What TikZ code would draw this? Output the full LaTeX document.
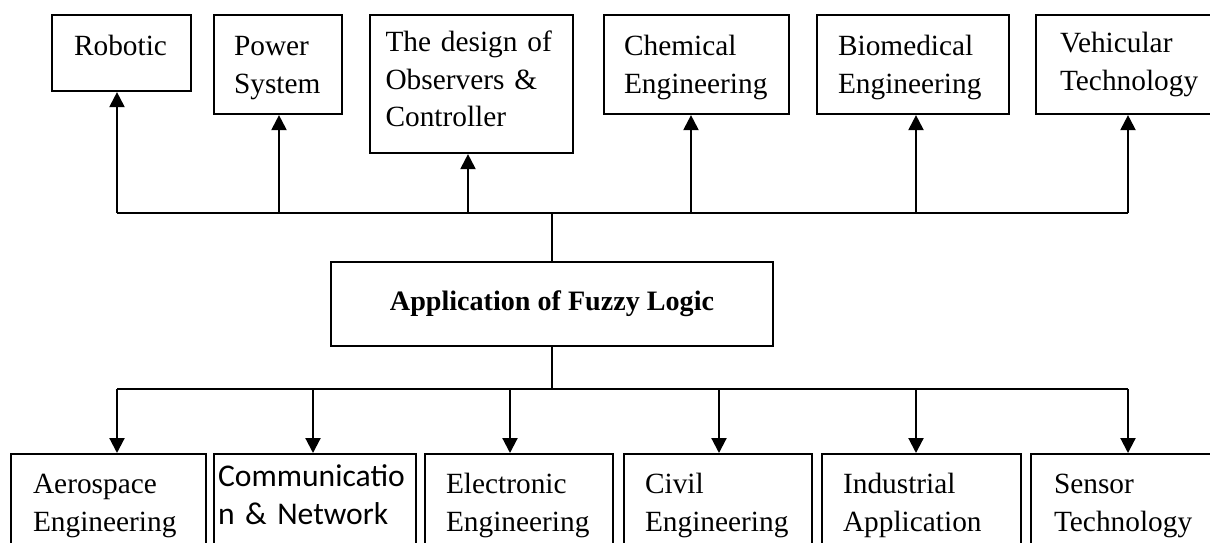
\documentclass[tikz,border=0pt]{standalone}
\usepackage{fontspec}
\setmainfont{Liberation Serif}
\newfontfamily\calibrifont{Carlito}
\usetikzlibrary{arrows.meta}

\tikzset{
  appbox/.style={draw, line width=1.2pt, anchor=north west, align=left, inner ysep=0pt,
    font=\fontsize{16.7}{21.6}\selectfont},
  mainbox/.style={draw, line width=1.2pt, minimum width=8.84cm, minimum height=1.68cm,
    font=\fontsize{16}{19}\selectfont\bfseries},
  link/.style={line width=1.2pt},
  arrowlink/.style={link, -{Triangle[length=0.3cm,width=0.3cm]}}
}

\begin{document}
\begin{tikzpicture}[x=0.02cm, y=-0.02cm]
\useasboundingbox (0,0) rectangle (1210,542);

% Fields above
\node[appbox, inner xsep=0.44cm, text width=1.9cm, text height=0.8cm, text depth=0.72cm] (rob) at (51,14) {Robotic};
\node[appbox, inner xsep=0.4cm, text width=1.76cm, text height=0.8cm, text depth=1.18cm] (pow) at (213,14) {Power\\System};
\node[appbox, inner xsep=0.31cm, text width=3.44cm, text height=0.72cm, text depth=2.04cm] (des) at (369,14) {The design of\\Observers \&\\Controller};
\node[appbox, inner xsep=0.4cm, text width=2.9cm, text height=0.8cm, text depth=1.18cm] (che) at (603,14) {Chemical\\Engineering};
\node[appbox, inner xsep=0.42cm, text width=3.0cm, text height=0.8cm, text depth=1.18cm] (bio) at (816,14) {Biomedical\\Engineering};
\node[appbox, inner xsep=0.48cm, text width=2.94cm, text height=0.74cm, text depth=1.24cm] (veh) at (1035,14) {Vehicular\\Technology};

% Centre box
\node[mainbox] (main) at (552,304) {Application of Fuzzy Logic};

% Fields below
\node[appbox, inner xsep=0.44cm, text width=3.02cm, text height=0.78cm, text depth=1.46cm] (aer) at (10,453) {Aerospace\\Engineering};
\node[appbox, inner xsep=0.08cm, text width=3.88cm, text height=0.64cm, text depth=1.6cm,
  font=\calibrifont\fontsize{18}{21.6}\selectfont] (com) at (213,453) {Communicatio\\n \& Network};
\node[appbox, inner xsep=0.42cm, text width=2.92cm, text height=0.78cm, text depth=1.46cm] (ele) at (424,453) {Electronic\\Engineering};
\node[appbox, inner xsep=0.42cm, text width=2.92cm, text height=0.78cm, text depth=1.46cm] (civ) at (623,453) {Civil\\Engineering};
\node[appbox, inner xsep=0.42cm, text width=3.14cm, text height=0.78cm, text depth=1.46cm] (ind) at (821,453) {Industrial\\Application};
\node[appbox, inner xsep=0.46cm, text width=3.08cm, text height=0.78cm, text depth=1.46cm] (sen) at (1030,453) {Sensor\\Technology};

% Upper bus
\coordinate (t1) at (117,213);
\coordinate (t2) at (279,213);
\coordinate (t3) at (468,213);
\coordinate (t4) at (691,213);
\coordinate (t5) at (916,213);
\coordinate (t6) at (1128,213);
\draw[link] (main.north) -- (main.north |- t1);
\draw[link] (t1) -- (t6);
\draw[arrowlink] (t1) -- (t1 |- rob.south);
\draw[arrowlink] (t2) -- (t2 |- pow.south);
\draw[arrowlink] (t3) -- (t3 |- des.south);
\draw[arrowlink] (t4) -- (t4 |- che.south);
\draw[arrowlink] (t5) -- (t5 |- bio.south);
\draw[arrowlink] (t6) -- (t6 |- veh.south);

% Lower bus
\coordinate (b1) at (117,389);
\coordinate (b2) at (313,389);
\coordinate (b3) at (510,389);
\coordinate (b4) at (719,389);
\coordinate (b5) at (916,389);
\coordinate (b6) at (1128,389);
\draw[link] (main.south) -- (main.south |- b1);
\draw[link] (b1) -- (b6);
\draw[arrowlink] (b1) -- (b1 |- aer.north);
\draw[arrowlink] (b2) -- (b2 |- com.north);
\draw[arrowlink] (b3) -- (b3 |- ele.north);
\draw[arrowlink] (b4) -- (b4 |- civ.north);
\draw[arrowlink] (b5) -- (b5 |- ind.north);
\draw[arrowlink] (b6) -- (b6 |- sen.north);

\end{tikzpicture}
\end{document}
